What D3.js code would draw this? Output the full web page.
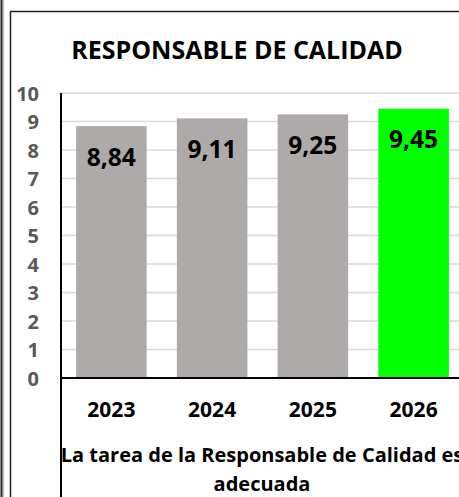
<!DOCTYPE html>
<html>
<head>
<meta charset="utf-8">
<script src="https://cdn.jsdelivr.net/npm/d3@7"></script>
<style>
  body { margin: 0; background: #fff; }
  text { font-family: "Open Sans", "Noto Sans", sans-serif; font-weight: bold; }
</style>
</head>
<body>
<div id="chart"></div>
<script>
const width = 459,
      height = 497;

// data
const years = ["2023", "2024", "2025", "2026"];
const scores = [8.84, 9.11, 9.25, 9.45];
const barColors = ["#aeaaaa", "#aeaaaa", "#aeaaaa", "#00ff00"];
const yTicks = [0, 1, 2, 3, 4, 5, 6, 7, 8, 9, 10];
const title = "RESPONSABLE DE CALIDAD";
const axisTitle = ["La tarea de la Responsable de Calidad es", "adecuada"];

const svg = d3.select("#chart")
  .append("svg")
    .attr("width", width)
    .attr("height", height);

const x = d3.scaleBand()
    .domain(years)
    .range([61, 464])
    .paddingInner(0.3)
    .paddingOuter(0.15);

const y = d3.scaleLinear()
    .domain([0, 10])
    .range([378, 93]);

// frame lines
svg.append("line")
    .attr("x1", 1.5).attr("x2", 1.5)
    .attr("y1", 0).attr("y2", height)
    .attr("stroke", "#222").attr("stroke-width", 2);
svg.append("line")
    .attr("x1", 3.5).attr("x2", 3.5)
    .attr("y1", 0).attr("y2", height)
    .attr("stroke", "#bbb").attr("stroke-width", 1);
svg.append("line")
    .attr("x1", 10.5).attr("x2", 10.5)
    .attr("y1", 11).attr("y2", height)
    .attr("stroke", "#222").attr("stroke-width", 1.5);
svg.append("line")
    .attr("x1", 10).attr("x2", width)
    .attr("y1", 11.5).attr("y2", 11.5)
    .attr("stroke", "#222").attr("stroke-width", 1.5);

// title
svg.append("text")
    .attr("x", 237)
    .attr("y", 59)
    .attr("text-anchor", "middle")
    .attr("fill", "#000")
    .style("font-size", "25px")
    .text(title);

// gridlines
svg.append("g")
  .selectAll("line")
  .data(yTicks.filter(d => d > 0))
  .enter()
  .append("line")
    .attr("x1", 61)
    .attr("x2", width)
    .attr("y1", d => y(d))
    .attr("y2", d => y(d))
    .attr("stroke", "#d9d9d9")
    .attr("stroke-width", 1.5);

// y axis labels
const yAxis = svg.append("g")
    .attr("transform", "translate(39,0)")
    .call(d3.axisLeft(y).tickValues(yTicks).tickSize(0).tickPadding(0));
yAxis.select(".domain").remove();
yAxis.selectAll("text")
    .attr("fill", "#595959")
    .attr("font-family", null)
    .attr("font-size", null)
    .style("font-size", "20px")
    .attr("dy", "0.36em");

// bars
svg.append("g")
  .selectAll("rect")
  .data(scores)
  .enter()
  .append("rect")
    .attr("x", (d, i) => x(years[i]))
    .attr("y", d => y(d))
    .attr("width", x.bandwidth())
    .attr("height", d => y(0) - y(d))
    .attr("fill", (d, i) => barColors[i]);

// value labels
svg.append("g")
  .selectAll("text")
  .data(scores)
  .enter()
  .append("text")
    .attr("x", (d, i) => x(years[i]) + x.bandwidth() / 2)
    .attr("y", d => y(d) + 31)
    .attr("dy", "0.36em")
    .attr("text-anchor", "middle")
    .attr("fill", "#000")
    .style("font-size", "24.5px")
    .text(d => d.toFixed(2).replace(".", ","));

// axis lines
svg.append("line")
    .attr("x1", 61).attr("x2", 61)
    .attr("y1", y(10)).attr("y2", height)
    .attr("stroke", "#000").attr("stroke-width", 2);
svg.append("line")
    .attr("x1", 61).attr("x2", width)
    .attr("y1", y(0)).attr("y2", y(0))
    .attr("stroke", "#000").attr("stroke-width", 2);

// x labels
const xAxis = svg.append("g")
    .attr("transform", `translate(0,${y(0)})`)
    .call(d3.axisBottom(x).tickSize(0).tickPadding(0));
xAxis.select(".domain").remove();
xAxis.selectAll("text")
    .attr("y", 31)
    .attr("dy", "0.36em")
    .attr("fill", "#000")
    .attr("font-family", null)
    .attr("font-size", null)
    .style("font-size", "21px");

// category axis title
svg.append("text")
    .attr("x", 262)
    .attr("text-anchor", "middle")
    .attr("fill", "#000")
    .style("font-size", "20px")
  .selectAll("tspan")
  .data(axisTitle)
  .enter()
  .append("tspan")
    .attr("x", 262)
    .attr("y", (d, i) => 462 + i * 29)
    .text(d => d);
</script>
</body>
</html>
